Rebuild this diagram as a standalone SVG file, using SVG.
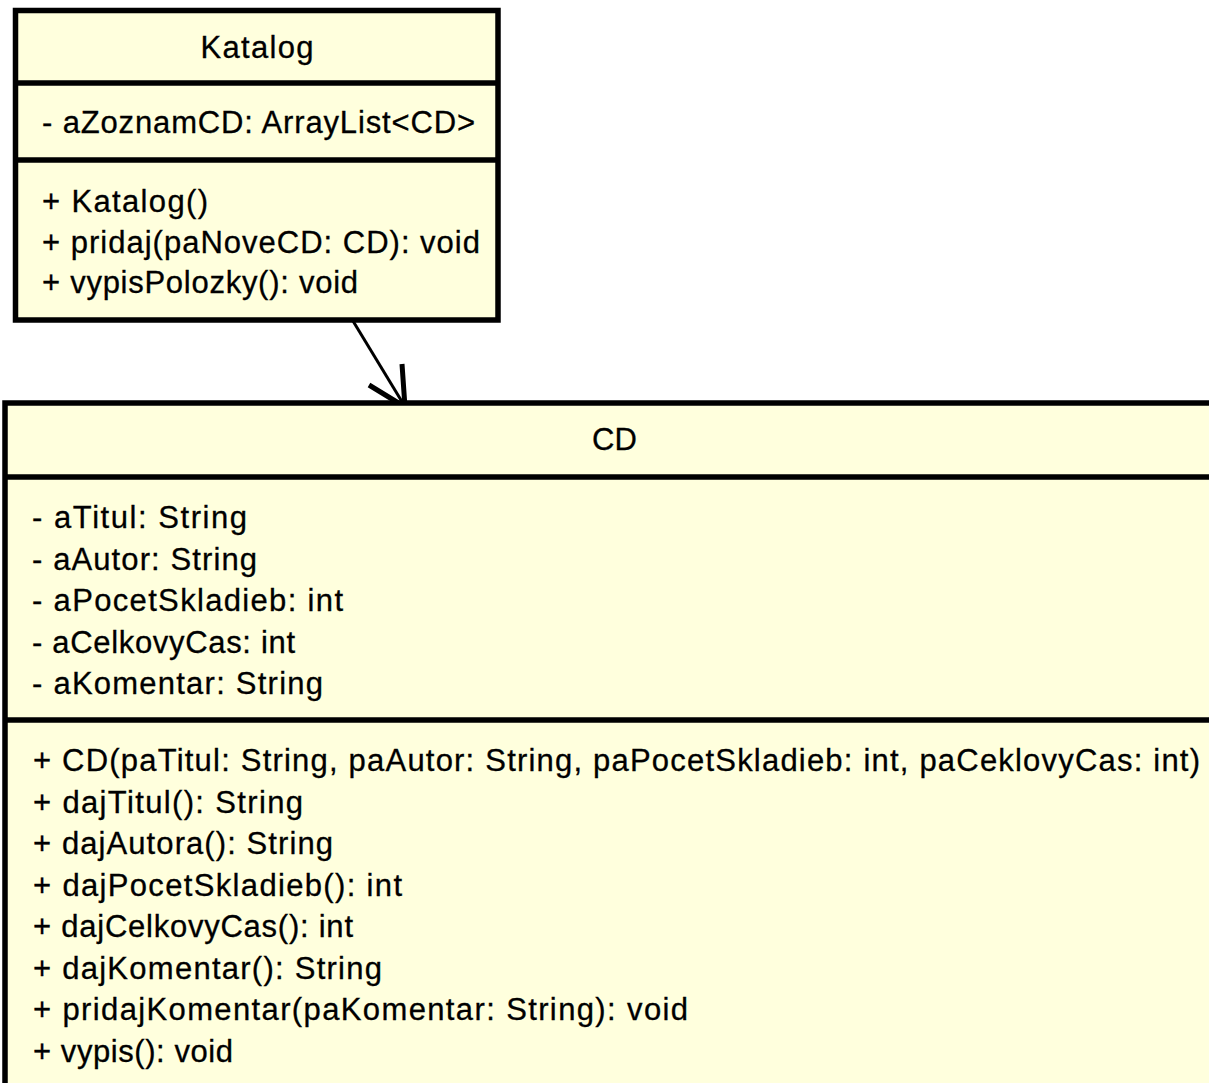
<svg xmlns="http://www.w3.org/2000/svg" width="1209" height="1083" viewBox="0 0 1209 1083">
<style>
.box{fill:#FFFFDD;stroke:#000;stroke-width:5.5}
.sep{stroke:#000;stroke-width:5.5}
.t{font-family:"Liberation Sans",Arial,sans-serif;font-size:31px;fill:#000;stroke:#000;stroke-width:0.3}
.c{text-anchor:middle}
</style>
<rect width="1209" height="1083" fill="#fff"/>
<g id="connectors">
<line x1="353" y1="321" x2="404" y2="405" stroke="#000" stroke-width="3"/>
<polyline points="369,385 405,407 402,364" fill="none" stroke="#000" stroke-width="5"/>
</g>
<g id="Katalog">
<rect class="box" x="15.5" y="10.5" width="482.5" height="309.5"/>
<line class="sep" x1="15.5" y1="83" x2="498" y2="83"/>
<line class="sep" x1="15.5" y1="160" x2="498" y2="160"/>
<text class="t c" x="257" y="58" textLength="113" lengthAdjust="spacing">Katalog</text>
<text class="t" x="42" y="133" textLength="433" lengthAdjust="spacing">- aZoznamCD: ArrayList&lt;CD&gt;</text>
<text class="t" x="42" y="212" textLength="166" lengthAdjust="spacing">+ Katalog()</text>
<text class="t" x="42" y="252.5" textLength="438" lengthAdjust="spacing">+ pridaj(paNoveCD: CD): void</text>
<text class="t" x="42" y="293" textLength="316" lengthAdjust="spacing">+ vypisPolozky(): void</text>
</g>
<g id="CD">
<rect class="box" x="5" y="403" width="1219" height="720"/>
<line class="sep" x1="5" y1="477" x2="1224" y2="477"/>
<line class="sep" x1="5" y1="720" x2="1224" y2="720"/>
<text class="t c" x="614.5" y="450">CD</text>
<text class="t" x="32" y="528" textLength="215" lengthAdjust="spacing">- aTitul: String</text>
<text class="t" x="32" y="569.5" textLength="225" lengthAdjust="spacing">- aAutor: String</text>
<text class="t" x="32" y="611" textLength="311" lengthAdjust="spacing">- aPocetSkladieb: int</text>
<text class="t" x="32" y="652.5" textLength="263" lengthAdjust="spacing">- aCelkovyCas: int</text>
<text class="t" x="32" y="694" textLength="291" lengthAdjust="spacing">- aKomentar: String</text>
<text class="t" x="33" y="771" textLength="1167" lengthAdjust="spacing">+ CD(paTitul: String, paAutor: String, paPocetSkladieb: int, paCeklovyCas: int)</text>
<text class="t" x="33" y="812.5" textLength="270" lengthAdjust="spacing">+ dajTitul(): String</text>
<text class="t" x="33" y="854" textLength="300" lengthAdjust="spacing">+ dajAutora(): String</text>
<text class="t" x="33" y="895.5" textLength="369" lengthAdjust="spacing">+ dajPocetSkladieb(): int</text>
<text class="t" x="33" y="937" textLength="320" lengthAdjust="spacing">+ dajCelkovyCas(): int</text>
<text class="t" x="33" y="978.5" textLength="349" lengthAdjust="spacing">+ dajKomentar(): String</text>
<text class="t" x="33" y="1020" textLength="655" lengthAdjust="spacing">+ pridajKomentar(paKomentar: String): void</text>
<text class="t" x="33" y="1061.5" textLength="200" lengthAdjust="spacing">+ vypis(): void</text>
</g>
</svg>
